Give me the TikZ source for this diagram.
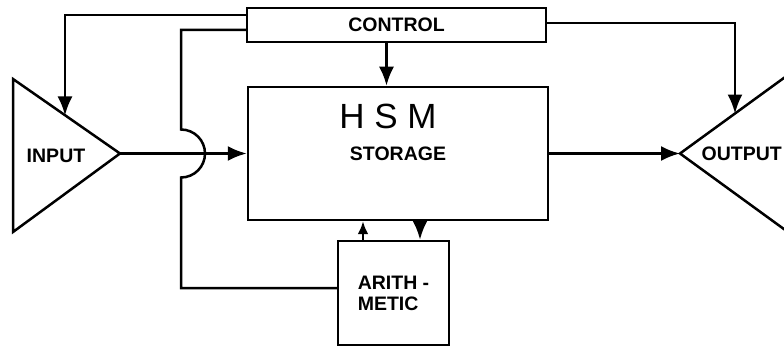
\documentclass[tikz,border=0pt]{standalone}
\usepackage{fontspec}
\setsansfont{Liberation Sans}
\usepackage{tikz}
\usetikzlibrary{positioning, arrows.meta}

\begin{document}
\begin{tikzpicture}[x=1pt,y=-1pt,line width=2.5pt,
       box/.style={draw,rectangle,inner sep=0pt,font=\sffamily\bfseries\fontsize{19.5}{21}\selectfont},
       lbl/.style={font=\sffamily\bfseries\fontsize{19.5}{21}\selectfont},
       arr/.style={-{Latex[length=19pt,width=15pt]}},
       small arr/.style={-{Latex[length=13pt,width=11pt]}}]
       \useasboundingbox (0,0) rectangle (784,347);
       \clip (0,0) rectangle (784,347);

       % Blok utama
       \node[box,minimum width=299pt,minimum height=34pt] (ctrl) at (396.5,25) {CONTROL};
       \node[box,minimum width=300pt,minimum height=133pt] (stor) at (398,153.5) {STORAGE};
       \node[box,minimum width=111pt,minimum height=104pt,align=left] (arith) at (393.5,293) {ARITH -\\METIC};
       \node[font=\sffamily\fontsize{35}{36}\selectfont] (hsm) at (388,116) {H S M};

       % Segitiga masukan dan keluaran
       \coordinate (inA) at (13,79);
       \coordinate (inB) at (13,232);
       \coordinate (inTip) at (120,153.5);
       \coordinate (inTop) at (65,115.5);
       \draw (inA) -- (inTip) -- (inB) -- cycle;
       \node[lbl] (inLbl) at (56,156) {INPUT};

       \coordinate (outTip) at (680,153.5);
       \coordinate (outA) at (790,73.5);
       \coordinate (outB) at (790,233.5);
       \coordinate (outTop) at (735,113.6);
       \draw (outA) -- (outTip) -- (outB);
       \node[lbl,anchor=east,inner xsep=1pt] (outLbl) at (784,153.5) {OUTPUT};

       % Titik lompatan
       \coordinate (jmp) at (181,153.5);

       \draw[arr] ([yshift=10pt]ctrl.west) -| (inTop);
       \draw[arr] ([xshift=-10pt]ctrl.south) -- ([xshift=-10pt]ctrl.south |- stor.north);
       \draw[arr] ([yshift=2pt]ctrl.east) -| (outTop);
       \draw ([yshift=-5pt]ctrl.west) -| ([yshift=24pt]jmp)
             arc[start angle=90,end angle=-90,radius=24pt]
             |- ([yshift=5pt]arith.west);

       \draw[arr] (inTip) -- (stor.west);
       \draw[arr] (stor.east) -- (outTip);
       \draw[arr] ([xshift=22pt]stor.south) -- ([xshift=22pt]stor.south |- arith.north);
       \draw[small arr] ([xshift=-30.5pt]arith.north) -- ([xshift=-30.5pt]arith.north |- stor.south);
\end{tikzpicture}
\end{document}
